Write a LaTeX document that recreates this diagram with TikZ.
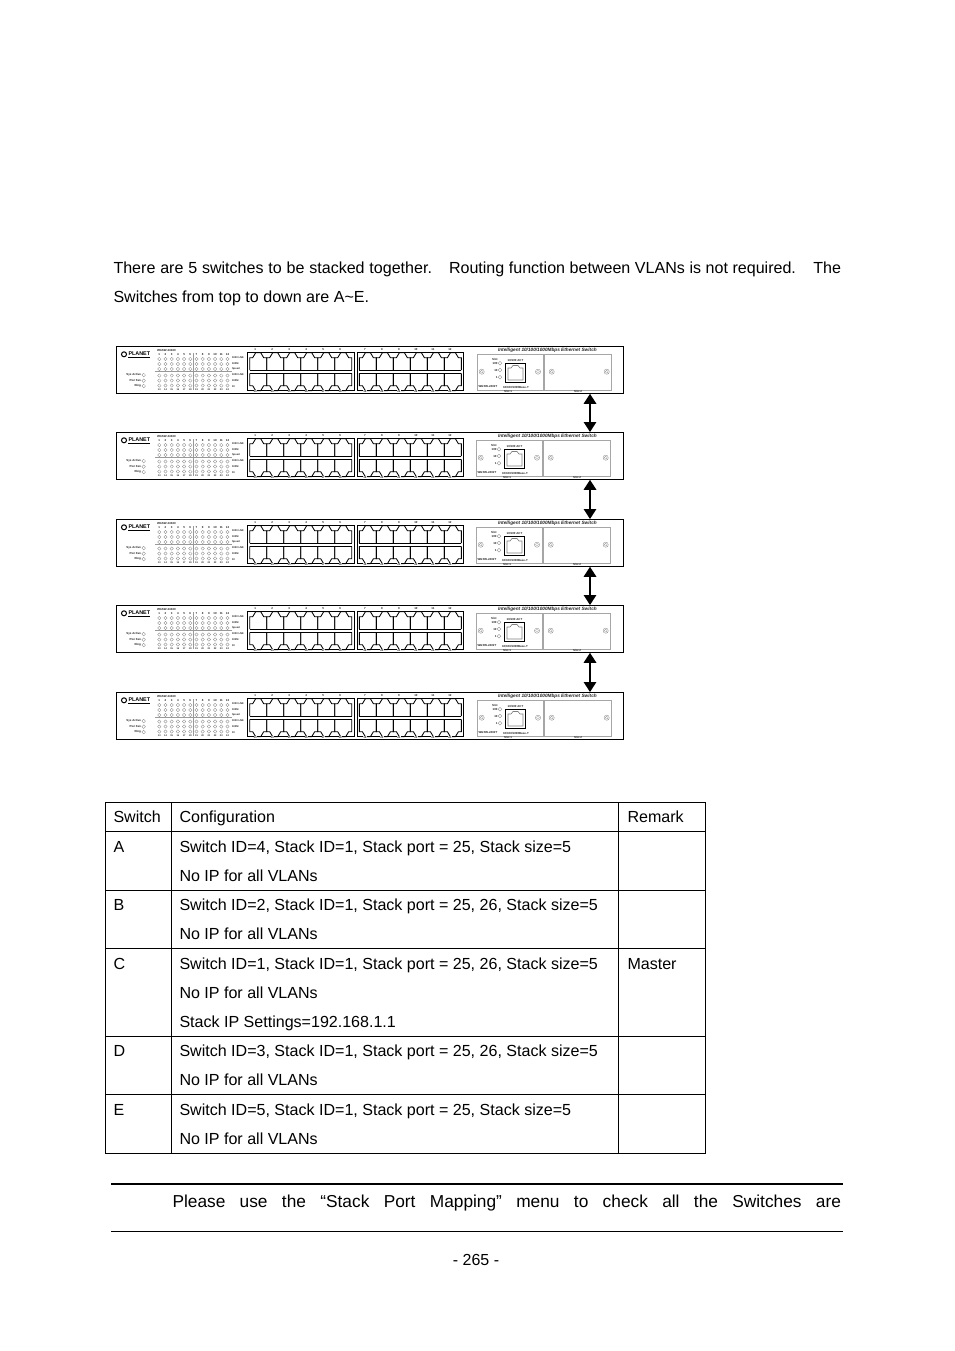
\documentclass[tikz,border=0pt]{standalone}
\usepackage{fontspec}
\setmainfont{Liberation Sans}
\usetikzlibrary{arrows.meta}
\newcommand{\tinyfont}{\fontsize{2.9}{3.2}\selectfont\bfseries}
\tikzset{
  txt/.style={anchor=base west,inner sep=0pt,outer sep=0pt,font=\fontsize{16.05}{18}\selectfont},
  tiny/.style={inner sep=0pt,outer sep=0pt,font=\tinyfont,text=black!85},
  swbody/.style={draw=black,line width=0.8pt,fill=white,anchor=north west,minimum width=507pt,minimum height=47pt,inner sep=0pt},
  led/.style={draw=black!45,line width=0.35pt},
  port/.style={draw=black,line width=0.85pt},
  modbox/.style={draw=black!35,line width=0.5pt},
  stackarrow/.style={line width=1.5pt,{Triangle[length=10pt,width=12.5pt]}-{Triangle[length=10pt,width=12.5pt]}},
  grid/.style={draw=black,line width=0.8pt}
}
\newcommand{\portblock}[1]{% x0 of the block, local coordinates
  \draw[port] (#1,6.7) rectangle (#1+106.7,44.7);
  \draw[port] (#1+2.4,24) -- (#1+104.3,24) (#1+2.4,27.3) -- (#1+104.3,27.3);
  \foreach \pi in {0,...,5}{
    \pgfmathsetmacro{\px}{#1+2.4+\pi*17}
    \draw[port] (\px,24) -- (\px,11.7) -- (\px+3,11.7) -- (\px+6,6.7) -- (\px+11,6.7) -- (\px+14,11.7) -- (\px+17,11.7) -- (\px+17,24);
    \draw[port] (\px,27.3) -- (\px,39.7) -- (\px+3,39.7) -- (\px+6,44.7) -- (\px+11,44.7) -- (\px+14,39.7) -- (\px+17,39.7) -- (\px+17,27.3);
  }
}
\newcommand{\switchunit}[3]{% name, top y, module dx
\node[swbody] (#1) at (116,#2) {};
\begin{scope}[shift={(116,#2)}]
  % logo
  \draw[line width=1pt] (8,8.3) circle (2.5);
  \node[inner sep=0pt,font=\fontsize{5.4}{6}\selectfont\bfseries,anchor=west] (#1logo) at (12.3,8) {PLANET};
  \draw[line width=0.5pt] (12.3,11) -- (34,11);
  \node[tiny,anchor=west] (#1model) at (41,4) {WGSW-24040};
  % left LEDs
  \foreach \yy/\lab in {29/Sys Active,34.7/Pwr Fan,40/Ring}{
    \draw[led] (27.7,\yy) circle (1.8);
    \node[tiny,anchor=east] at (25,\yy) {\lab};
  }
  % LED matrix
  \foreach \c in {1,...,12}{
    \pgfmathsetmacro{\cx}{43.3+(\c-1)*6.2}
    \foreach \yy in {13,18,23,29.5,34.5,39.5}{
      \draw[led] (\cx,\yy) circle (1.7);
    }
    \node[tiny] at (\cx,8.8) {\c};
    \pgfmathtruncatemacro{\lo}{\c+12}
    \node[tiny,font=\fontsize{2.4}{3}\selectfont\bfseries] at (\cx,44) {\lo};
  }
  \draw[black!40,line width=0.5pt] (39,25.7) -- (116,25.7) (77,7) -- (77,44);
  \foreach \yy/\lab in {11.3/1000 LNK,17.3/100M,23.3/Speed,29/1000 LNK,34.7/100M,40.7/10/100}{
    \node[tiny,font=\fontsize{2.6}{3}\selectfont\bfseries,anchor=west] at (116,\yy) {\lab};
  }
  % port blocks
  \portblock{131.3}
  \portblock{241}
  \foreach \i in {1,...,6}{
    \pgfmathsetmacro{\tx}{139.2+(\i-1)*17}
    \node[tiny] at (\tx,3.7) {\i};
    \pgfmathtruncatemacro{\tb}{\i+12}
    \node[tiny,fill=white] at (\tx,45.3) {\tb};
    \pgfmathsetmacro{\ty}{248.9+(\i-1)*17}
    \pgfmathtruncatemacro{\ta}{\i+6}
    \node[tiny] at (\ty,3.7) {\ta};
    \pgfmathtruncatemacro{\tc}{\i+18}
    \node[tiny,fill=white] at (\ty,45.3) {\tc};
  }
  % modules
  \node[tiny,font=\fontsize{4.7}{5}\selectfont\itshape\bfseries,anchor=west] (#1title) at (382,4.7) {Intelligent 10/100/1000Mbps Ethernet Switch};
  \begin{scope}[xshift=#3 pt]
  \draw[modbox] (361.3,8.3) rectangle (427.3,44);
  \draw[modbox] (428,8.3) rectangle (495.7,44);
  \foreach \xx in {365.7,422,435.7,490.7}{
    \draw[led] (\xx,25.7) circle (2.6);
    \draw[led,line width=0.25pt] (\xx,25.7) circle (1.5);
  }
  \foreach \yy/\lab in {17.3/100,24/10,31.3/1}{
    \draw[led] (384,\yy) circle (1.9);
    \node[tiny,anchor=east] at (381.5,\yy) {\lab};
  }
  \node[tiny,anchor=east] at (381.5,13.5) {Slot};
  \draw[black,line width=0.8pt] (389,17.3) rectangle (409.7,36.7);
  \draw[black!50,line width=0.6pt] (392,34) -- (392,22) -- (395,22) -- (397,19.5) -- (402,19.5) -- (404,22) -- (407,22) -- (407,34) -- cycle;
  \node[tiny] at (399.5,14.5) {10/100 ACT};
  \node[tiny,anchor=west] at (362.5,40.5) {WGSW-2402T};
  \node[tiny,anchor=west] at (387,41) {10/100/1000Base-T};
  \node[tiny] at (392,45.7) {Slot 1};
  \node[tiny] at (462,45.7) {Slot 2};
  \end{scope}
\end{scope}
}
\begin{document}
\begin{tikzpicture}[x=1pt,y=-1pt]
\useasboundingbox[fill=white] (0,0) rectangle (954,1351);
% intro text
\node[txt] (t1) at (113.5,273) {\makebox[318.5pt][s]{There are 5 switches to be stacked together.}};
\node[txt] (t2) at (449,273) {\makebox[347pt][s]{Routing function between VLANs is not required.}};
\node[txt,anchor=base east] (t3) at (841,273) {The};
\node[txt] (t4) at (113.5,302) {Switches from top to down are A\textasciitilde E.};
% switches
\switchunit{swA}{346}{0}
\switchunit{swB}{432}{-1}
\switchunit{swC}{519}{-1}
\switchunit{swD}{605}{-1}
\switchunit{swE}{692}{0}
\coordinate (ax) at (590,0);
\draw[stackarrow] (swA.south -| ax) -- (swB.north -| ax);
\draw[stackarrow] (swB.south -| ax) -- (swC.north -| ax);
\draw[stackarrow] (swC.south -| ax) -- (swD.north -| ax);
\draw[stackarrow] (swD.south -| ax) -- (swE.north -| ax);
% table
\draw[grid] (105.5,802.5) rectangle (705.5,1153.5);
\draw[grid] (171.5,802.5) -- (171.5,1153.5) (618,802.5) -- (618,1153.5);
\foreach \yy in {831.5,890.5,948.5,1036.5,1094.5}{
  \draw[grid] (105.5,\yy) -- (705.5,\yy);
}
\foreach \yy/\s/\c in {822/Switch/Configuration,
  852/A/{Switch ID=4, Stack ID=1, Stack port = 25, Stack size=5},
  910/B/{Switch ID=2, Stack ID=1, Stack port = 25, 26, Stack size=5},
  969/C/{Switch ID=1, Stack ID=1, Stack port = 25, 26, Stack size=5},
  1056/D/{Switch ID=3, Stack ID=1, Stack port = 25, 26, Stack size=5},
  1115/E/{Switch ID=5, Stack ID=1, Stack port = 25, Stack size=5}}{
  \node[txt] at (113.5,\yy) {\s};
  \node[txt] at (179.5,\yy) {\c};
}
\foreach \yy in {881,939,998,1085,1144}{
  \node[txt] at (179.5,\yy) {No IP for all VLANs};
}
\node[txt] at (179.5,1027) {Stack IP Settings=192.168.1.1};
\node[txt] at (627.5,822) {Remark};
\node[txt] at (627.5,969) {Master};
% note
\draw[line width=2pt] (111,1183.5) -- (843,1183.5);
\draw[line width=1pt] (111,1231.5) -- (843,1231.5);
\node[txt,font=\fontsize{17.3}{19}\selectfont] (note) at (172.5,1207.5) {\makebox[668.5pt][s]{Please use the “Stack Port Mapping” menu to check all the Switches are}};
\node[txt,anchor=base,font=\fontsize{16}{18}\selectfont] (pg) at (476,1265.5) {- 265 -};
\end{tikzpicture}
\end{document}
